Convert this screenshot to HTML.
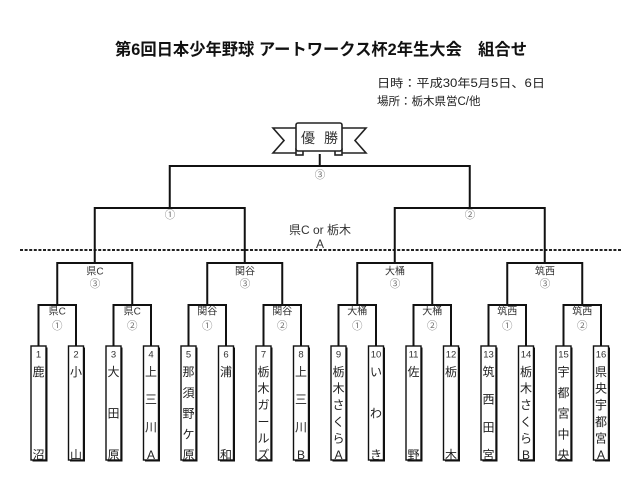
<!DOCTYPE html>
<html>
<head>
<meta charset="utf-8">
<style>
html,body{margin:0;padding:0;background:#fff;}
svg{display:block;}
text{font-family:"Liberation Sans","Noto Sans CJK JP",sans-serif;}
</style>
</head>
<body>
<svg width="640" height="494" viewBox="0 0 640 494" xmlns="http://www.w3.org/2000/svg">
<rect width="640" height="494" fill="#fff"/>

<!-- Title -->
<text x="115" y="55" font-size="16.5" font-weight="bold" fill="#111" textLength="412" lengthAdjust="spacingAndGlyphs">第6回日本少年野球 アートワークス杯2年生大会　組合せ</text>
<text x="377" y="87" font-size="11.5" fill="#222" textLength="168" lengthAdjust="spacingAndGlyphs">日時：平成30年5月5日、6日</text>
<text x="377" y="105" font-size="11.5" fill="#222">場所：栃木県営C/他</text>

<!-- Ribbon -->
<g stroke="#222" stroke-width="1.6" fill="#fff" stroke-linejoin="miter">
  <polygon points="298,128 273,128 284,140.5 273,153 298,153"/>
  <polygon points="340,128 366,128 355,140.5 366,153 340,153"/>
  <rect x="296" y="149" width="7" height="6"/>
  <rect x="335" y="149" width="7" height="6"/>
  <rect x="296" y="123" width="46" height="28" rx="2"/>
</g>
<text x="308" y="138" font-size="14" fill="#333" text-anchor="middle" dominant-baseline="central">優</text>
<text x="331" y="138" font-size="14" fill="#333" text-anchor="middle" dominant-baseline="central">勝</text>

<!-- dashed line -->
<path d="M20 250 H621" stroke="#222" stroke-width="2" stroke-dasharray="3 1.6" fill="none"/>

<!-- bracket lines -->
<path fill="none" stroke="#111" stroke-width="2" stroke-linejoin="miter" d="
M319.75 166 V154
M169.75 208 V166 H469.75 V208
M94.75 263 V208 H244.75 V263
M394.75 263 V208 H544.75 V263
M57.25 305 V263 H132.25 V305
M207.25 305 V263 H282.25 V305
M357.25 305 V263 H432.25 V305
M507.25 305 V263 H582.25 V305
M38.5 346 V305 H76 V346
M113.5 346 V305 H151 V346
M188.5 346 V305 H226 V346
M263.5 346 V305 H301 V346
M338.5 346 V305 H376 V346
M413.5 346 V305 H451 V346
M488.5 346 V305 H526 V346
M563.5 346 V305 H601 V346"/>

<!-- bracket labels -->
<g font-size="10.5" fill="#777" text-anchor="middle" dominant-baseline="central">
  <text x="320" y="175">③</text>
  <text x="170" y="215">①</text>
  <text x="470" y="215">②</text>
  <text x="95" y="284">③</text>
  <text x="245" y="284">③</text>
  <text x="395" y="284">③</text>
  <text x="545" y="284">③</text>
  <text x="57.25" y="326">①</text>
  <text x="132.25" y="326">②</text>
  <text x="207.25" y="326">①</text>
  <text x="282.25" y="326">②</text>
  <text x="357.25" y="326">①</text>
  <text x="432.25" y="326">②</text>
  <text x="507.25" y="326">①</text>
  <text x="582.25" y="326">②</text>
</g>
<g font-size="10" fill="#333" text-anchor="middle" dominant-baseline="central">
  <text x="95" y="272">県C</text>
  <text x="245" y="272">関谷</text>
  <text x="395" y="272">大桶</text>
  <text x="545" y="272">筑西</text>
  <text x="57.25" y="312">県C</text>
  <text x="132.25" y="312">県C</text>
  <text x="207.25" y="312">関谷</text>
  <text x="282.25" y="312">関谷</text>
  <text x="357.25" y="312">大桶</text>
  <text x="432.25" y="312">大桶</text>
  <text x="507.25" y="312">筑西</text>
  <text x="582.25" y="312">筑西</text>
</g>
<g font-size="12" fill="#333" text-anchor="middle" dominant-baseline="central">
  <text x="320" y="230">県C or 栃木</text>
  <text x="320" y="244">A</text>
</g>

<!-- boxes -->
<g>
  <g fill="#111">
    <rect x="32.5" y="347.5" width="15" height="114"/>
    <rect x="70" y="347.5" width="15" height="114"/>
    <rect x="107.5" y="347.5" width="15" height="114"/>
    <rect x="145" y="347.5" width="15" height="114"/>
    <rect x="182.5" y="347.5" width="15" height="114"/>
    <rect x="220" y="347.5" width="15" height="114"/>
    <rect x="257.5" y="347.5" width="15" height="114"/>
    <rect x="295" y="347.5" width="15" height="114"/>
    <rect x="332.5" y="347.5" width="15" height="114"/>
    <rect x="370" y="347.5" width="15" height="114"/>
    <rect x="407.5" y="347.5" width="15" height="114"/>
    <rect x="445" y="347.5" width="15" height="114"/>
    <rect x="482.5" y="347.5" width="15" height="114"/>
    <rect x="520" y="347.5" width="15" height="114"/>
    <rect x="557.5" y="347.5" width="15" height="114"/>
    <rect x="595" y="347.5" width="15" height="114"/>
  </g>
  <g fill="#fff" stroke="#111" stroke-width="1.4">
    <rect x="31" y="346" width="15" height="114"/>
    <rect x="68.5" y="346" width="15" height="114"/>
    <rect x="106" y="346" width="15" height="114"/>
    <rect x="143.5" y="346" width="15" height="114"/>
    <rect x="181" y="346" width="15" height="114"/>
    <rect x="218.5" y="346" width="15" height="114"/>
    <rect x="256" y="346" width="15" height="114"/>
    <rect x="293.5" y="346" width="15" height="114"/>
    <rect x="331" y="346" width="15" height="114"/>
    <rect x="368.5" y="346" width="15" height="114"/>
    <rect x="406" y="346" width="15" height="114"/>
    <rect x="443.5" y="346" width="15" height="114"/>
    <rect x="481" y="346" width="15" height="114"/>
    <rect x="518.5" y="346" width="15" height="114"/>
    <rect x="556" y="346" width="15" height="114"/>
    <rect x="593.5" y="346" width="15" height="114"/>
  </g>
</g>

<!-- box numbers -->
<g font-size="9.5" fill="#333" text-anchor="middle" dominant-baseline="central">
  <text x="38.5" y="355">1</text>
  <text x="76" y="355">2</text>
  <text x="113.5" y="355">3</text>
  <text x="151" y="355">4</text>
  <text x="188.5" y="355">5</text>
  <text x="226" y="355">6</text>
  <text x="263.5" y="355">7</text>
  <text x="301" y="355">8</text>
  <text x="338.5" y="355">9</text>
  <text x="376" y="355">10</text>
  <text x="413.5" y="355">11</text>
  <text x="451" y="355">12</text>
  <text x="488.5" y="355">13</text>
  <text x="526" y="355">14</text>
  <text x="563.5" y="355">15</text>
  <text x="601" y="355">16</text>
</g>

<!-- box names -->
<g font-size="12" fill="#222" text-anchor="middle" dominant-baseline="central">
  <text x="38.5" y="372">鹿</text><text x="38.5" y="455">沼</text>
  <text x="76" y="372">小</text><text x="76" y="455">山</text>
  <text x="113.5" y="372">大</text><text x="113.5" y="413.5">田</text><text x="113.5" y="455">原</text>
  <text x="151" y="372">上</text><text x="151" y="399.7">三</text><text x="151" y="427.3">川</text><text x="151" y="455">A</text>
  <text x="188.5" y="372">那</text><text x="188.5" y="392.75">須</text><text x="188.5" y="413.5">野</text><text x="188.5" y="434.25">ケ</text><text x="188.5" y="455">原</text>
  <text x="226" y="372">浦</text><text x="226" y="455">和</text>
  <text x="263.5" y="372">栃</text><text x="263.5" y="388.6">木</text><text x="263.5" y="405.2">ガ</text><text x="263.5" y="421.8">ー</text><text x="263.5" y="438.4">ル</text><text x="263.5" y="455">ズ</text>
  <text x="301" y="372">上</text><text x="301" y="399.7">三</text><text x="301" y="427.3">川</text><text x="301" y="455">B</text>
  <text x="338.5" y="372">栃</text><text x="338.5" y="388.6">木</text><text x="338.5" y="405.2">さ</text><text x="338.5" y="421.8">く</text><text x="338.5" y="438.4">ら</text><text x="338.5" y="455">A</text>
  <text x="376" y="372">い</text><text x="376" y="413.5">わ</text><text x="376" y="455">き</text>
  <text x="413.5" y="372">佐</text><text x="413.5" y="455">野</text>
  <text x="451" y="372">栃</text><text x="451" y="455">木</text>
  <text x="488.5" y="372">筑</text><text x="488.5" y="399.7">西</text><text x="488.5" y="427.3">田</text><text x="488.5" y="455">宮</text>
  <text x="526" y="372">栃</text><text x="526" y="388.6">木</text><text x="526" y="405.2">さ</text><text x="526" y="421.8">く</text><text x="526" y="438.4">ら</text><text x="526" y="455">B</text>
  <text x="563.5" y="372">宇</text><text x="563.5" y="392.75">都</text><text x="563.5" y="413.5">宮</text><text x="563.5" y="434.25">中</text><text x="563.5" y="455">央</text>
  <text x="601" y="372">県</text><text x="601" y="388.6">央</text><text x="601" y="405.2">宇</text><text x="601" y="421.8">都</text><text x="601" y="438.4">宮</text><text x="601" y="455">A</text>
</g>
</svg>
</body>
</html>
